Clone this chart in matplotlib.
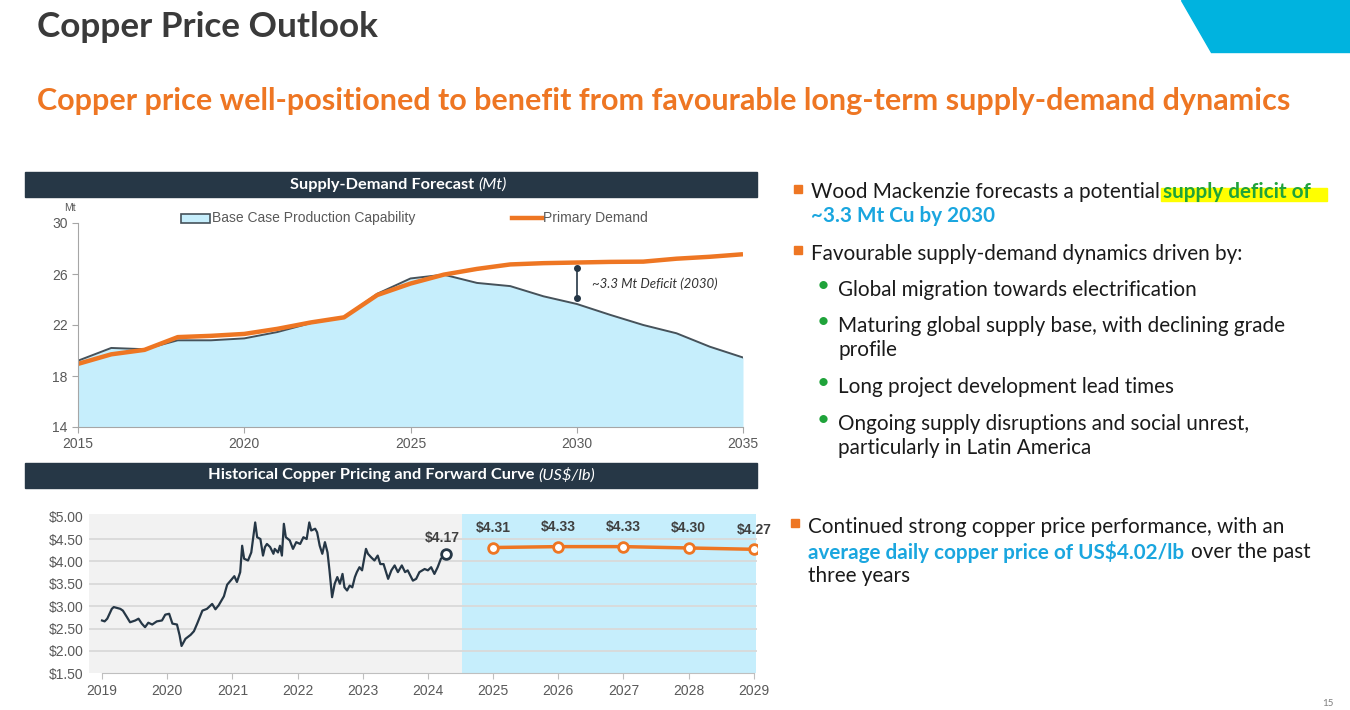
#!/usr/bin/env python3

"""
Copper price outlook slide: supply-demand forecast and price curve
"""

import matplotlib

matplotlib.use("Agg")
import matplotlib.pyplot as plt
from matplotlib.patches import Rectangle, Polygon
from matplotlib.lines import Line2D

W, H = 1350, 710

# Supply-demand forecast (Mt)
sd_years = list(range(2015, 2036))
supply = [19.2, 20.2, 20.1, 20.8, 20.8, 20.95, 21.45, 22.15, 22.6, 24.45, 25.65,
          25.95, 25.3, 25.05, 24.25, 23.65, 22.8, 22.0, 21.35, 20.3, 19.45]
demand = [18.95, 19.7, 20.05, 21.05, 21.15, 21.3, 21.7, 22.2, 22.6, 24.35, 25.25,
          25.95, 26.4, 26.75, 26.85, 26.9, 26.95, 26.97, 27.2, 27.35, 27.55]
deficit_top, deficit_bottom = 26.45, 24.1
sd_yticks = [14, 18, 22, 26, 30]
sd_xticks = [2015, 2020, 2025, 2030, 2035]

# Historical copper price (US$/lb)
hist_t = [2019.00, 2019.04, 2019.08, 2019.15, 2019.18, 2019.28, 2019.32, 2019.38,
          2019.43, 2019.51, 2019.56, 2019.61, 2019.66, 2019.71, 2019.77, 2019.84,
          2019.92, 2019.97, 2020.03, 2020.08, 2020.15, 2020.19, 2020.22, 2020.28,
          2020.36, 2020.41, 2020.46, 2020.54, 2020.61, 2020.69, 2020.74, 2020.79,
          2020.87, 2020.92, 2020.99, 2021.03, 2021.07, 2021.12, 2021.15, 2021.18,
          2021.24, 2021.29, 2021.35, 2021.38, 2021.43, 2021.47, 2021.50, 2021.53,
          2021.58, 2021.63, 2021.65, 2021.70, 2021.73, 2021.76, 2021.79, 2021.82,
          2021.88, 2021.93, 2021.98, 2022.04, 2022.09, 2022.14, 2022.18, 2022.21,
          2022.27, 2022.30, 2022.34, 2022.38, 2022.42, 2022.46, 2022.49, 2022.53,
          2022.57, 2022.61, 2022.65, 2022.69, 2022.72, 2022.76, 2022.80, 2022.84,
          2022.88, 2022.91, 2022.95, 2022.99, 2023.05, 2023.08, 2023.13, 2023.18,
          2023.23, 2023.27, 2023.32, 2023.39, 2023.44, 2023.49, 2023.54, 2023.60,
          2023.65, 2023.69, 2023.77, 2023.82, 2023.87, 2023.95, 2024.00, 2024.05,
          2024.10, 2024.15, 2024.20, 2024.28]
hist_price = [2.68, 2.66, 2.72, 2.94, 2.98, 2.94, 2.90, 2.76,
              2.64, 2.68, 2.72, 2.61, 2.53, 2.63, 2.59, 2.66,
              2.68, 2.81, 2.83, 2.61, 2.59, 2.35, 2.11, 2.27,
              2.36, 2.44, 2.61, 2.90, 2.94, 3.05, 2.93, 3.02,
              3.22, 3.48, 3.60, 3.67, 3.54, 3.76, 4.35, 4.06,
              4.02, 4.20, 4.87, 4.54, 4.50, 4.13, 4.32, 4.39,
              4.32, 4.17, 4.28, 4.20, 4.35, 4.13, 4.84, 4.54,
              4.47, 4.28, 4.43, 4.39, 4.54, 4.50, 4.87, 4.69,
              4.73, 4.65, 4.35, 4.17, 4.43, 4.20, 3.80, 3.20,
              3.50, 3.65, 3.50, 3.72, 3.42, 3.35, 3.46, 3.42,
              3.65, 3.76, 3.87, 3.80, 4.28, 4.17, 4.09, 4.02,
              4.13, 3.94, 3.94, 3.61, 3.80, 3.91, 3.76, 3.91,
              3.76, 3.80, 3.57, 3.61, 3.76, 3.83, 3.80, 3.87,
              3.72, 3.87, 4.06, 4.17]
fwd_years = [2025, 2026, 2027, 2028, 2029]
fwd_price = [4.31, 4.33, 4.33, 4.30, 4.27]
price_yticks = [1.5, 2.0, 2.5, 3.0, 3.5, 4.0, 4.5, 5.0]
price_xticks = list(range(2019, 2030))

NAVY = "#263746"
ORANGE = "#EE7623"
CYAN = "#1AA6DF"
GREEN = "#1FA33A"
TICK = "#595959"
CHART_FONT = "Liberation Sans"
SLIDE_FONT = "Lato"


def fx(x):
    return x / W


def fy(y):
    return 1 - y / H


def axes_at(fig, left, top, right, bottom):
    return fig.add_axes([fx(left), fy(bottom), (right - left) / W, (bottom - top) / H])


def put(fig, x, y, s, **kw):
    kw.setdefault("va", "center")
    kw.setdefault("family", SLIDE_FONT)
    return fig.text(fx(x), fy(y), s, **kw)


def header_bar(fig, top, bold, italic, split_x):
    fig.patches.append(Rectangle((fx(25), fy(top + 25)), 732 / W, 25 / H,
                                 transform=fig.transFigure, color=NAVY, zorder=0))
    put(fig, split_x, top + 12.5, bold, ha="right", color="white",
        fontsize=11.8, fontweight="bold")
    put(fig, split_x + 4, top + 12.5, italic, ha="left", color="white",
        fontsize=11.8, style="italic")


def draw_supply_demand(fig):
    header_bar(fig, 172, "Supply-Demand Forecast", "(Mt)", 474)
    ax = axes_at(fig, 78, 223, 743, 427)
    ax.fill_between(sd_years, 14, supply, color="#C6EEFC", lw=0)
    ax.plot(sd_years, supply, color="#46525A", lw=1.4)
    ax.plot(sd_years, demand, color=ORANGE, lw=3.2, solid_capstyle="butt")
    ax.plot([2030, 2030], [deficit_bottom, deficit_top], color=NAVY, lw=1.2,
            marker="o", markersize=4)
    ax.text(2030.45, 25.2, "~3.3 Mt Deficit (2030)", style="italic",
            fontsize=9.5, color="#333333", va="center", family=SLIDE_FONT)
    ax.set_xlim(2015, 2035)
    ax.set_ylim(14, 30)
    ax.set_xticks(sd_xticks)
    ax.set_yticks(sd_yticks)
    for s in ["top", "right"]:
        ax.spines[s].set_visible(False)
    for s in ["left", "bottom"]:
        ax.spines[s].set_color("#A6A6A6")
    ax.tick_params(colors="#A6A6A6", labelcolor=TICK, labelsize=10, length=4)
    for lab in ax.get_xticklabels() + ax.get_yticklabels():
        lab.set_family(CHART_FONT)
    ax.set_facecolor("none")
    put(fig, 70, 208, "Mt", ha="center", fontsize=7.5, color=TICK, family=CHART_FONT)

    # legend drawn by hand at the reference position
    fig.patches.append(Rectangle((fx(181), fy(223)), 29 / W, 9 / H,
                                 transform=fig.transFigure, facecolor="#C6EEFC",
                                 edgecolor="#46525A", lw=1.2))
    put(fig, 212, 218, "Base Case Production Capability", fontsize=10,
        color=TICK, family=CHART_FONT)
    fig.lines.append(Line2D([fx(512), fx(542)], [fy(218), fy(218)],
                            transform=fig.transFigure, color=ORANGE, lw=3.2))
    put(fig, 543, 218, "Primary Demand", fontsize=10, color=TICK, family=CHART_FONT)


def draw_price(fig):
    header_bar(fig, 463, "Historical Copper Pricing and Forward Curve", "(US$/lb)", 534)
    ax = axes_at(fig, 89, 513.5, 757, 673.3)
    ax.set_xlim(2018.8, 2029.05)
    ax.set_ylim(1.5, 5.07)
    ax.axvspan(2018.8, 2024.52, color="#F2F2F2", lw=0, zorder=0)
    ax.axvspan(2024.52, 2029.03, color="#C6EEFC", lw=0, zorder=0)
    for v in price_yticks[1:-1]:
        ax.axhline(v, color="#D9D9D9", lw=1.3, zorder=1)
    ax.plot(hist_t, hist_price, color=NAVY, lw=1.6, zorder=3)
    ax.plot(hist_t[-1], hist_price[-1], "o", mfc="white", mec=NAVY, mew=2,
            markersize=7, zorder=4)
    ax.annotate(f"${hist_price[-1]:.2f}", (hist_t[-1], hist_price[-1]),
                xytext=(-3, 6), textcoords="offset points", ha="center",
                va="bottom", fontsize=10, fontweight="bold", color="#404040",
                family=CHART_FONT)
    ax.plot(fwd_years, fwd_price, color=ORANGE, lw=2.5, marker="o", mfc="white",
            mec=ORANGE, mew=2, markersize=7, zorder=4)
    for x, v in zip(fwd_years, fwd_price):
        ax.annotate(f"${v:.2f}", (x, v), xytext=(0, 9), textcoords="offset points",
                    ha="center", va="bottom", fontsize=10, fontweight="bold",
                    color="#404040", family=CHART_FONT)
    ax.set_xticks(price_xticks)
    ax.set_yticks(price_yticks)
    ax.set_yticklabels([f"${v:.2f}" for v in price_yticks])
    for s in ["top", "right", "left"]:
        ax.spines[s].set_visible(False)
    ax.spines["bottom"].set_color("#BFBFBF")
    ax.spines["bottom"].set_bounds(2019, 2029)
    ax.tick_params(axis="x", colors="#BFBFBF", labelcolor=TICK, labelsize=10, length=4)
    ax.tick_params(axis="y", length=0, labelcolor=TICK, labelsize=10, pad=4)
    for lab in ax.get_xticklabels() + ax.get_yticklabels():
        lab.set_family(CHART_FONT)


def draw_text(fig):
    fig.patches.append(Polygon([(fx(1181), fy(0)), (fx(1350), fy(0)), (fx(1350), fy(52)),
                                (fx(1211), fy(52))], closed=True,
                               transform=fig.transFigure, color="#00B3DF"))
    put(fig, 37, 27, "Copper Price Outlook", fontsize=25.3, fontweight="bold",
        color="#3A3A3A")
    put(fig, 37, 101, "Copper price well-positioned to benefit from favourable "
        "long-term supply-demand dynamics", fontsize=22, fontweight="bold",
        color=ORANGE)

    fs = 14.9
    for x, y in [(794, 189), (794, 250), (791, 523)]:
        fig.patches.append(Rectangle((fx(x), fy(y + 4)), 8 / W, 8 / H,
                                     transform=fig.transFigure, color=ORANGE))
    for y in [286, 322, 383, 420]:
        put(fig, 823, y, "\u2022", fontsize=16, color=GREEN, ha="center")

    fig.patches.append(Rectangle((fx(1161), fy(201)), 166 / W, 13 / H,
                                 transform=fig.transFigure, color="#FFFF00"))
    put(fig, 811, 192, "Wood Mackenzie forecasts a potential", fontsize=fs, color="#1A1A1A")
    put(fig, 1163, 192, "supply deficit of", fontsize=fs, color=GREEN, fontweight="bold")
    put(fig, 811, 216, "~3.3 Mt Cu by 2030", fontsize=fs, color=CYAN, fontweight="bold")
    put(fig, 811, 254, "Favourable supply-demand dynamics driven by:", fontsize=fs,
        color="#1A1A1A")
    subs = [(290, "Global migration towards electrification"),
            (326, "Maturing global supply base, with declining grade"),
            (350, "profile"),
            (387, "Long project development lead times"),
            (424, "Ongoing supply disruptions and social unrest,"),
            (448, "particularly in Latin America")]
    for y, s in subs:
        put(fig, 838, y, s, fontsize=fs, color="#1A1A1A")
    put(fig, 808, 527, "Continued strong copper price performance, with an",
        fontsize=fs, color="#1A1A1A")
    put(fig, 808, 552, "average daily copper price of US$4.02/lb", fontsize=fs,
        color=CYAN, fontweight="bold")
    put(fig, 1191, 552, "over the past", fontsize=fs, color="#1A1A1A")
    put(fig, 808, 576, "three years", fontsize=fs, color="#1A1A1A")
    put(fig, 1322, 703, "15", fontsize=7, color="#7F7F7F")


def main():
    fig = plt.figure(figsize=(W / 100, H / 100), dpi=100)
    fig.patch.set_facecolor("white")
    draw_text(fig)
    draw_supply_demand(fig)
    draw_price(fig)
    fig.savefig("out.png", dpi=100)


if __name__ == "__main__":
    main()
